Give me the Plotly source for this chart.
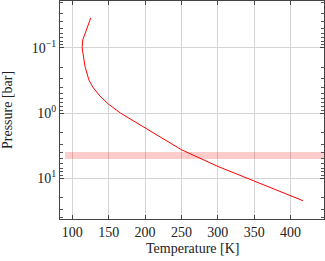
import plotly.graph_objects as go

temperature = [125.3, 114.3, 113.4, 117.5, 122.6, 128, 138, 149.6, 166, 200, 220.8, 250, 300, 350, 400, 417]
pressure = [0.035, 0.076, 0.1, 0.195, 0.31, 0.40, 0.55, 0.73, 1.0, 1.70, 2.28, 3.65, 6.57, 11.1, 18.5, 22.0]

band_temperature = [90, 470]
band_pressure = [4.48, 4.48]

x_ticks = [100, 150, 200, 250, 300, 350, 400]
y_ticks = [0.1, 1, 10]
y_ticktext = ["10<sup>−1</sup>", "10<sup>0</sup>", "10<sup>1</sup>"]

font = dict(family="Liberation Serif, DejaVu Serif, serif", size=14, color="#222")

fig = go.Figure()
fig.add_trace(go.Scatter(x=band_temperature, y=band_pressure, mode="lines",
                         line=dict(color="rgba(255,0,0,0.2)", width=7), showlegend=False))
fig.add_trace(go.Scatter(x=temperature, y=pressure, mode="lines",
                         line=dict(color="red", width=1), showlegend=False))

fig.update_layout(
    width=325, height=261,
    margin=dict(l=60, r=1, t=1, b=42),
    paper_bgcolor="white", plot_bgcolor="white",
    font=font,
    xaxis=dict(range=[83, 446], tickvals=x_ticks, ticks="inside", ticklen=4,
               showgrid=True, gridcolor="#d4d4d4", gridwidth=1,
               showline=True, linecolor="#444", linewidth=1, mirror="ticks",
               zeroline=False, automargin=False, tickfont=font),
    yaxis=dict(type="log", range=[1.623, -1.715], tickvals=y_ticks, ticktext=y_ticktext,
               ticks="inside", ticklen=4,
               minor=dict(ticks="inside", ticklen=3, dtick="D1", showgrid=False, tickcolor="#555"),
               showgrid=True, gridcolor="#d4d4d4", gridwidth=1,
               showline=True, linecolor="#444", linewidth=1, mirror="ticks",
               zeroline=False, automargin=False, tickfont=font),
    annotations=[
        dict(text="Temperature [K]", xref="paper", yref="paper", x=0.5, y=0,
             yshift=-29, xanchor="center", yanchor="middle", showarrow=False, font=font),
        dict(text="Pressure [bar]", xref="paper", yref="paper", x=0, y=0.5,
             xshift=-53, xanchor="center", yanchor="middle", textangle=-90,
             showarrow=False, font=font),
    ],
)

fig.write_html("out.html", config={"displayModeBar": False},
               post_script="document.body.style.margin='0';document.body.style.overflow='hidden';")
